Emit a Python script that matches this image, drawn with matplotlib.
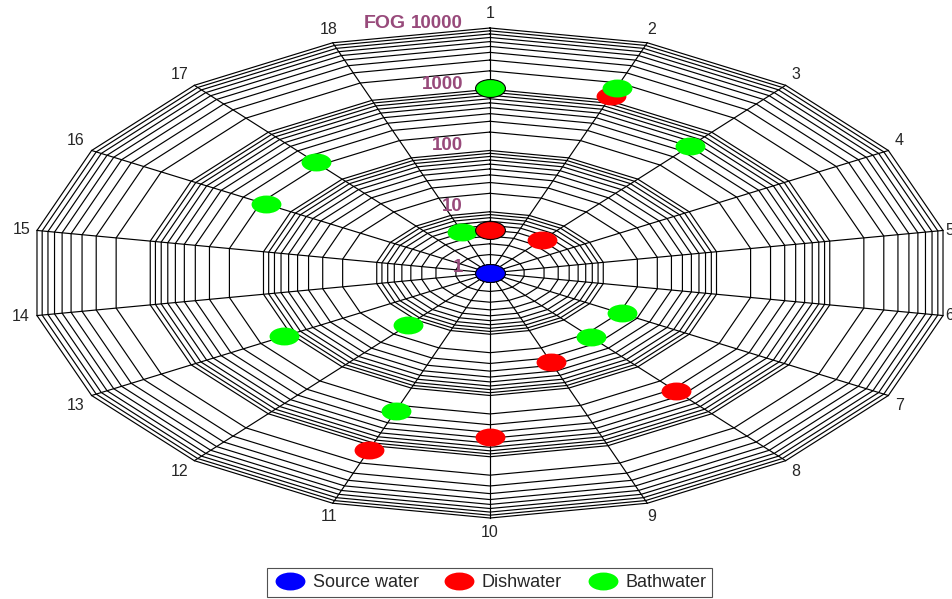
import numpy as np
import matplotlib
matplotlib.use("Agg")
import matplotlib.pyplot as plt
from matplotlib.path import Path
from matplotlib.transforms import Affine2D
from matplotlib.lines import Line2D

plt.rcParams['font.family'] = ['Liberation Sans', 'DejaVu Sans']

# Sample numbers around the web
samples = [str(i) for i in range(1, 19)]

# FOG concentrations per sample (NaN = not measured for that water type)
nan = np.nan
source_water = [1] * 18
dishwater = [5, 1200, 5, nan, nan, nan, nan, 330, 35, 475, 1170,
             nan, nan, nan, nan, nan, nan, nan]
bathwater = [1050, 1650, 500, nan, nan, nan, 21, 23, nan, nan, 250,
             13, 116, nan, nan, 177, 228, 5.1]

ring_labels = ['1', '10', '100', '1000', '10000']
axis_title = 'FOG'

series_names = ['Source water', 'Dishwater', 'Bathwater']
series_colors = ['#0000FF', '#FF0000', '#00FF00']

# log radial scale from 1 to 10000
decades = 4
def radius(v):
    return np.log10(np.asarray(v, dtype=float)) / decades

n = len(samples)
theta = np.deg2rad(90 - 360.0 / n * np.arange(n))
cos_t, sin_t = np.cos(theta), np.sin(theta)

W, H = 953, 599
fig = plt.figure(figsize=(W / 100, H / 100), dpi=100)
cx, cy, rx, ry = 490, 273, 460, 245
ax = fig.add_axes([(cx - rx) / W, (H - cy - ry) / H, 2 * rx / W, 2 * ry / H])
ax.set_xlim(-1, 1)
ax.set_ylim(-1, 1)
ax.axis('off')

# concentric polygon grid: every integer step within each decade
levels = []
for d in range(decades):
    for m in range(2, 11):
        levels.append(m * 10 ** d)
for lv in levels:
    r = radius(lv)
    xs = np.append(r * cos_t, r * cos_t[0])
    ys = np.append(r * sin_t, r * sin_t[0])
    ax.plot(xs, ys, color='black', lw=0.85, zorder=1, clip_on=False)

# spokes
for c, s in zip(cos_t, sin_t):
    ax.plot([0, c], [0, s], color='black', lw=0.85, zorder=1, clip_on=False)

# spoke labels
for lab, c, s in zip(samples, cos_t, sin_t):
    dx, dy = rx * c, ry * s
    nrm = np.hypot(dx, dy)
    gap = 2 if c > 0.9 else 7   # keep the rightmost labels inside the canvas
    off = gap / nrm
    ha = 'left' if c > 0.45 else ('right' if c < -0.45 else 'center')
    va = 'bottom' if s > 0.3 else ('top' if s < -0.3 else 'center')
    ax.annotate(lab, xy=(c, s), xytext=(dx * off * 0.72, dy * off * 0.72),
                textcoords='offset points', ha=ha, va=va, fontsize=11.5,
                color='#262626', annotation_clip=False)

# ring value labels
lab_color = '#984A7B'
to_pt = 72 / 100
for i, lab in enumerate(ring_labels):
    r = i / decades
    ax.annotate(lab, xy=(0, r), xytext=(-27 * to_pt, 5 * to_pt),
                textcoords='offset points', ha='right', va='center',
                fontsize=13.5, fontweight='bold', color=lab_color,
                annotation_clip=False)
ax.annotate(axis_title, xy=(0, 1), xytext=(-84 * to_pt, 5 * to_pt),
            textcoords='offset points', ha='right', va='center',
            fontsize=14, fontweight='bold', color=lab_color,
            annotation_clip=False)

# elliptical markers
ellipse = Path.unit_circle().transformed(Affine2D().scale(1.0, 0.6))
msize = 21.5

for name, vals, col in zip(series_names, [source_water, dishwater, bathwater],
                           series_colors):
    r = radius(vals)
    xs, ys = r * cos_t, r * sin_t
    ax.plot(xs[1:], ys[1:], ls='none', marker=ellipse, ms=msize,
            mfc=col, mec=col, mew=0, zorder=3, clip_on=False)
    ax.plot(xs[:1], ys[:1], ls='none', marker=ellipse, ms=msize,
            mfc=col, mec='black', mew=0.8, zorder=4, clip_on=False)

handles = [Line2D([], [], ls='none', marker=ellipse, ms=msize, mfc=c, mec=c,
                  mew=0) for c in series_colors]
leg = fig.legend(handles, series_names, loc='center',
                 bbox_to_anchor=(489.5 / W, 1 - 582.5 / H), ncol=3,
                 fontsize=13, frameon=True, fancybox=False,
                 edgecolor='#262626', borderpad=0.35, handletextpad=0.3,
                 columnspacing=1.3, handlelength=1.9, labelcolor='#262626')
leg.get_frame().set_linewidth(0.8)

fig.savefig('out.png', dpi=100, facecolor='white')
